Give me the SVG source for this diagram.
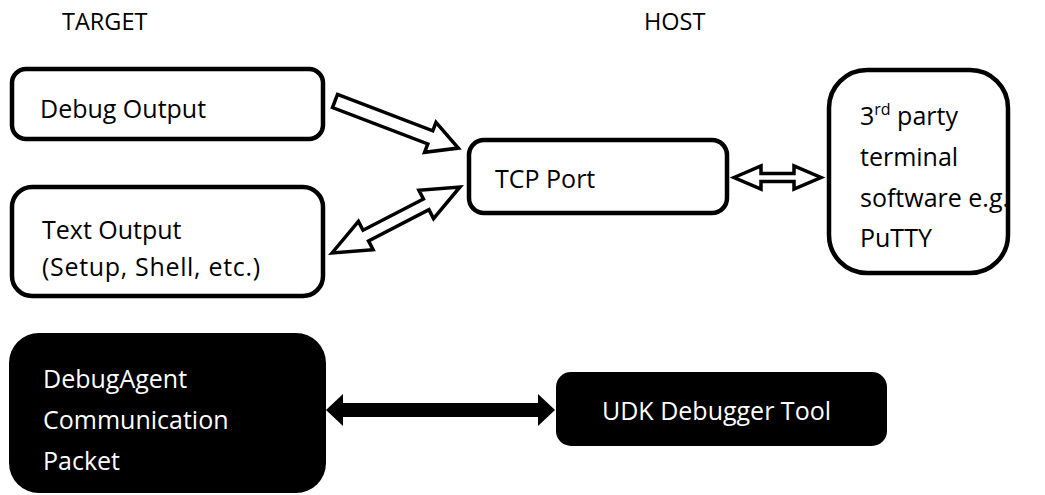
<svg xmlns="http://www.w3.org/2000/svg" width="1045" height="495" viewBox="0 0 1045 495">
<style>
text{font-family:"Open Sans","Liberation Sans",sans-serif;font-size:25px;fill:#000}
.hdr{font-size:23.5px}
.box{fill:#fff;stroke:#000;stroke-width:4.5}
.dark{fill:#000;stroke:none}
.wt{fill:#fff}
.oarrow{fill:#fff;stroke:#000;stroke-width:3.5;stroke-linejoin:miter}
.farrow{fill:#000;stroke:none}
</style>
<rect width="1045" height="495" fill="#fff"/>
<g id="headers">
<text class="hdr" x="62" y="30">TARGET</text>
<text class="hdr" x="644" y="30">HOST</text>
</g>
<g id="connectors">
<polygon class="oarrow" points="0,-7 102,-7 102,-16 132,0 102,16 102,7 0,7" transform="translate(335,101) rotate(20.9)"/>
<polygon class="oarrow" points="0,0 38,-16 38,-6 106,-6 106,-16 144,0 106,16 106,6 38,6 38,16" transform="translate(332,253) rotate(-27.3)"/>
<polygon class="oarrow" points="734,177.5 761,166 761,173.5 794,173.5 794,166 821,177.5 794,189 794,181.5 761,181.5 761,189"/>
<polygon class="farrow" points="326,410 343,394 343,403 538,403 538,394 555,410 538,426 538,417 343,417 343,426"/>
</g>
<g id="debug-output">
<rect class="box" x="12" y="69" width="311" height="70" rx="14"/>
<text x="40" y="118">Debug Output</text>
</g>
<g id="text-output">
<rect class="box" x="12" y="187" width="311" height="109" rx="20"/>
<text x="42" y="239">Text Output</text>
<text x="42" y="276" textLength="218">(Setup, Shell, etc.)</text>
</g>
<g id="tcp-port">
<rect class="box" x="469" y="140" width="258" height="73" rx="15"/>
<text x="495" y="188">TCP Port</text>
</g>
<g id="terminal">
<rect class="box" x="829" y="70" width="179" height="203" rx="38"/>
<text x="860" y="125">3<tspan font-size="16" dy="-10">rd</tspan><tspan dy="10"> party</tspan></text>
<text x="860" y="166">terminal</text>
<text x="860" y="207">software e.g.</text>
<text x="860" y="247">PuTTY</text>
</g>
<g id="debug-agent">
<rect class="dark" x="9" y="333" width="317" height="160" rx="30"/>
<text class="wt" x="43" y="388">DebugAgent</text>
<text class="wt" x="43" y="429">Communication</text>
<text class="wt" x="43" y="470">Packet</text>
</g>
<g id="udk-debugger">
<rect class="dark" x="556" y="372" width="331" height="74" rx="15"/>
<text class="wt" x="602" y="420" font-size="23">UDK Debugger Tool</text>
</g>
</svg>
